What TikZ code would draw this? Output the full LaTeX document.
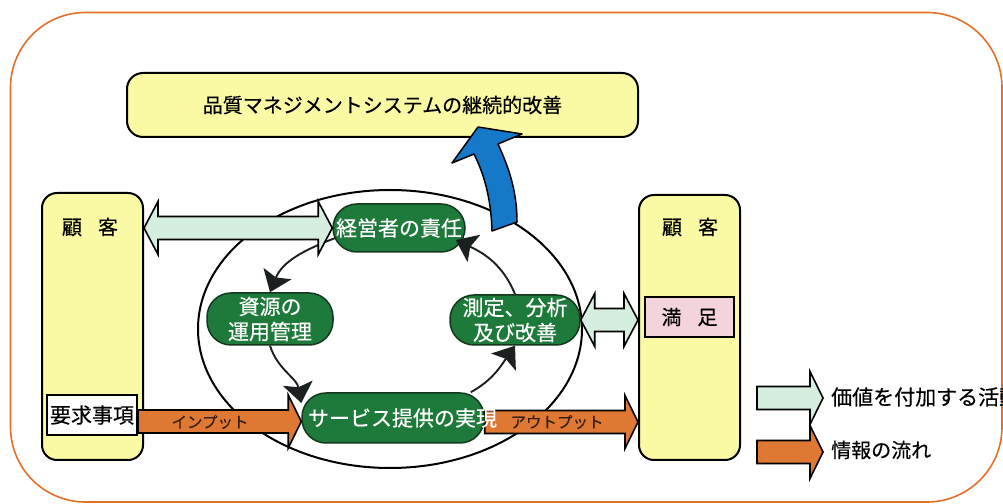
\documentclass[tikz,border=0pt]{standalone}
\usepackage{fontspec}
\newfontfamily\jp[FakeBold=0.4]{Noto Sans CJK JP}
\usetikzlibrary{arrows.meta,calc}
\pgfdeclarelayer{bg}
\pgfsetlayers{bg,main}
\definecolor{frameorange}{RGB}{226,112,40}
\definecolor{custyellow}{RGB}{250,250,165}
\definecolor{pillgreen}{RGB}{30,122,58}
\definecolor{pilledge}{RGB}{20,55,30}
\definecolor{valuegreen}{RGB}{214,238,224}
\definecolor{infoorange}{RGB}{222,120,50}
\definecolor{bluearrow}{RGB}{22,120,200}
\definecolor{pinkbox}{RGB}{242,212,218}
\definecolor{headdark}{RGB}{28,32,32}
\definecolor{labeldark}{RGB}{55,30,15}
\tikzset{
  custbox/.style={draw=black, line width=2pt, fill=custyellow, rounded corners=15pt, inner sep=0pt,
    font={\jp\fontsize{20}{24}\selectfont}},
  lbl/.style={inner sep=0pt, font={\jp\fontsize{20}{24}\selectfont}},
  smallbox/.style={draw=black, line width=2pt, inner sep=0pt, minimum height=40pt,
    font={\jp\fontsize{21}{25}\selectfont}},
  pill/.style={draw=pilledge, line width=1.5pt, fill=pillgreen, rounded corners=24pt, text=white,
    inner sep=0pt, align=center, font={\jp\fontsize{21}{25}\selectfont}},
  cyc/.style={draw=headdark, line width=1.9pt, -{Stealth[length=20pt,width=30pt,inset=4pt]}},
  blk/.style={to path={let \p1=(\tikztostart), \p2=(\tikztotarget) in
    (\x1,\y1+11.5pt) -- (\x2-13pt,\y1+11.5pt) -- (\x2-13pt,\y1+26.5pt) -- (\x2,\y1)
    -- (\x2-13pt,\y1-26.5pt) -- (\x2-13pt,\y1-11.5pt) -- (\x1,\y1-11.5pt) -- cycle}},
  dblk/.style={to path={let \p1=(\tikztostart), \p2=(\tikztotarget) in
    (\x1,\y1) -- (\x1+14pt,\y1+26.5pt) -- (\x1+14pt,\y1+11.5pt) -- (\x2-14pt,\y1+11.5pt)
    -- (\x2-14pt,\y1+26.5pt) -- (\x2,\y1) -- (\x2-14pt,\y1-26.5pt) -- (\x2-14pt,\y1-11.5pt)
    -- (\x1+14pt,\y1-11.5pt) -- (\x1+14pt,\y1-26.5pt) -- cycle}},
  valarrow/.style={draw=black, line width=1.6pt, fill=valuegreen, line join=miter},
  infarrow/.style={draw=black, line width=1.6pt, fill=infoorange, line join=miter},
  arrlbl/.style={inner sep=0pt, text=labeldark, font={\jp\fontsize{15.5}{18}\selectfont}},
  legtxt/.style={inner sep=0pt, anchor=west, font={\jp\fontsize{21}{25}\selectfont}},
}
\begin{document}
\begin{tikzpicture}[x=1pt,y=1pt]
\useasboundingbox (0,0) rectangle (1003,503);
\begin{pgfonlayer}{bg}
  \draw[frameorange, line width=1.6pt, rounded corners=75pt] (10.5,1) rectangle (1002,490.5);
  \draw[line width=2pt] (390,174) ellipse [x radius=192, y radius=139];
\end{pgfonlayer}

% boxes
\node[custbox, minimum width=511pt, minimum height=64pt, rounded corners=16pt] (top) at (382.5,398)
  {品質マネジメントシステムの継続的改善};
\node[custbox, minimum width=101pt, minimum height=267pt] (lcust) at (92.5,176.5) {};
\node[custbox, minimum width=101pt, minimum height=265pt] (rcust) at (689.5,175.5) {};
\node[lbl] (lcustlbl) at (90,276) {顧\hspace{16pt}客};
\node[lbl] (rcustlbl) at (690,276) {顧\hspace{16pt}客};
\node[smallbox, fill=white, minimum width=90pt] (req) at (92,88) {要求事項};
\node[smallbox, fill=pinkbox, minimum width=89pt, font={\jp\fontsize{20}{24}\selectfont}] (manzoku) at (689.5,186) {満\hspace{16pt}足};

% process pills
\node[pill, minimum width=132pt, minimum height=48pt] (keiei) at (399,275) {経営者の責任};
\node[pill, minimum width=126pt, minimum height=52pt] (shigen) at (270,184) {資源の\\運用管理};
\node[pill, minimum width=130pt, minimum height=50pt] (sokutei) at (515,183) {測定、分析\\及び改善};
\node[pill, minimum width=182pt, minimum height=50pt, inner xsep=6pt] (service) at (393,85)
  {\makebox[170pt][l]{サービス提供の実現}};

% cycle connectors
\draw[cyc] ([xshift=3pt,yshift=-10pt]keiei.west) to[out=201,in=68] (shigen.north);
\draw[cyc] (shigen.south) to[out=288,in=100] ([yshift=15pt]service.west);
\draw[cyc] ([xshift=-14pt]service.north east) to[out=29,in=235] (sokutei.south);
\draw[cyc] (sokutei.north) to[out=112,in=335] ([xshift=-10pt,yshift=-12pt]keiei.east);

% blue improvement arrow
\draw[fill=bluearrow, draw=black, line width=1.5pt, line join=round]
  (492,272) .. controls (491,307) and (483,331) .. (474,349) -- (452,340) -- (478,376)
  -- (522,369) -- (498,359) .. controls (507,339) and (517,315) .. (517,281) -- cycle;

% block arrows
\coordinate (vaS) at (lcust.east |- keiei.west);
\coordinate (vaE) at (keiei.west);
\draw[valarrow, dblk] (vaS) to (vaE);
\coordinate (vbS) at (sokutei.east);
\coordinate (vbE) at (rcust.west |- sokutei.east);
\draw[valarrow, dblk] (vbS) to (vbE);

\coordinate (inS) at ([yshift=-6.5pt]req.east);
\coordinate (inE) at (service.west |- inS);
\draw[infarrow, blk] (inS) to (inE);
\node[arrlbl] (inlbl) at (210,81) {インプット};

\coordinate (outS) at ([yshift=-4pt]service.east);
\coordinate (outE) at (rcust.west |- outS);
\begin{pgfonlayer}{bg}
  \draw[infarrow, blk] (outS) to (outE);
\end{pgfonlayer}
\node[arrlbl] (outlbl) at (557,81) {アウトプット};

% legend
\coordinate (lg1S) at (757,105);
\coordinate (lg1E) at (823,105);
\draw[valarrow, blk] (lg1S) to (lg1E);
\node[legtxt] (lg1t) at (831,106) {価値を付加する活動};
\coordinate (lg2S) at (757,51);
\coordinate (lg2E) at (823,51);
\draw[infarrow, blk] (lg2S) to (lg2E);
\node[legtxt, font={\jp\fontsize{20}{24}\selectfont}] (lg2t) at (831,53) {情報の流れ};
\end{tikzpicture}
\end{document}
